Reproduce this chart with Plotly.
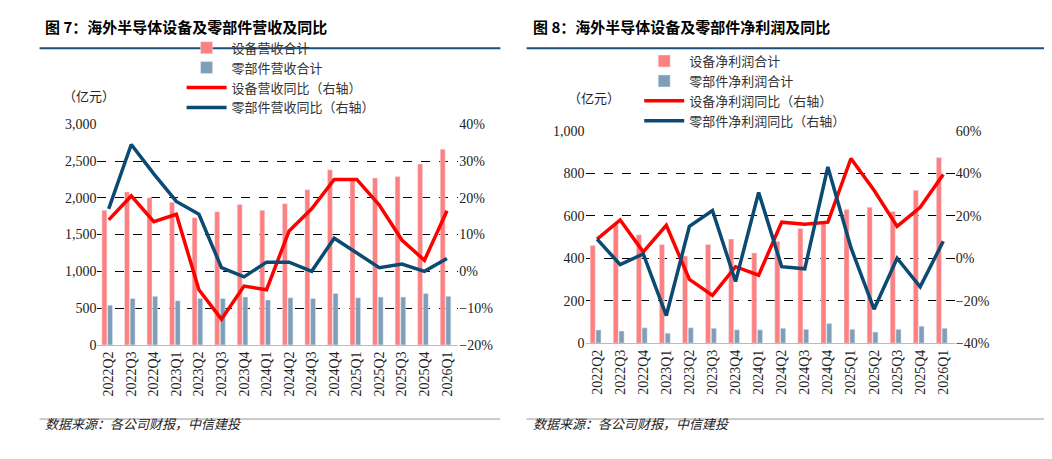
import plotly.graph_objects as go

quarters = ["2022Q2","2022Q3","2022Q4","2023Q1","2023Q2","2023Q3","2023Q4","2024Q1",
            "2024Q2","2024Q3","2024Q4","2025Q1","2025Q2","2025Q3","2025Q4","2026Q1"]
equip_rev = [1830,2080,2000,1940,1730,1810,1910,1830,1920,2110,2380,2250,2270,2290,2460,2660]
parts_rev = [540,630,660,600,630,630,650,610,640,630,700,640,650,650,700,660]
equip_rev_yoy = [14,20.5,13.5,15.5,-5,-13,-4,-5,11,17,25,25,18,8.5,3,16.5]
parts_rev_yoy = [17,34.5,26.5,19,15.5,1,-1.5,2.5,2.5,0,9,5,1,2,0,3.5]

equip_np = [460,560,510,465,410,465,490,425,480,540,570,630,640,620,720,875]
parts_np = [62,57,72,47,72,70,63,63,70,65,92,65,52,65,80,70]
equip_np_yoy = [9,18,3,15.5,-10,-17.5,-4,-8,17,16,17,47,32,15,24,39.5]
parts_np_yoy = [9,-3,2,-27,15,22.5,-11,31,-4,-5,43,5,-24,0,-13.5,8]

PINK = "#FF8080"; GREYBLUE = "#7F9FB9"; RED = "#FF0000"; NAVY = "#0B4A72"
SERIF = "Times New Roman, Liberation Serif, DejaVu Serif, serif"
fig = go.Figure()

def panel(xa, ya, ya2, leg, bars1, bars2, l1, l2, names):
    fig.add_bar(x=quarters, y=bars1, name=names[0], marker_color=PINK, xaxis=xa, yaxis=ya, legend=leg, width=0.22, offset=-0.3)
    fig.add_bar(x=quarters, y=bars2, name=names[1], marker_color=GREYBLUE, xaxis=xa, yaxis=ya, legend=leg, width=0.22, offset=-0.05)
    fig.add_scatter(x=quarters, y=[v/100 for v in l1], name=names[2], mode="lines", line=dict(color=RED, width=3.5), xaxis=xa, yaxis=ya2, legend=leg)
    fig.add_scatter(x=quarters, y=[v/100 for v in l2], name=names[3], mode="lines", line=dict(color=NAVY, width=3.5), xaxis=xa, yaxis=ya2, legend=leg)

panel("x", "y", "y2", "legend", equip_rev, parts_rev, equip_rev_yoy, parts_rev_yoy,
      ["设备营收合计", "零部件营收合计", "设备营收同比（右轴）", "零部件营收同比（右轴）"])
panel("x2", "y3", "y4", "legend2", equip_np, parts_np, equip_np_yoy, parts_np_yoy,
      ["设备净利润合计", "零部件净利润合计", "设备净利润同比（右轴）", "零部件净利润同比（右轴）"])

tickf = dict(family=SERIF, size=14, color="#222")
xcommon = dict(tickangle=-90, tickfont=tickf, showline=True, linecolor="#bbb", ticks="")
ycommon = dict(showgrid=True, gridcolor="black", griddash="dash", gridwidth=1, tickfont=tickf, zeroline=False)
legf = dict(font=dict(family="Noto Sans CJK SC", size=13, color="#333"), bgcolor="rgba(0,0,0,0)",
            traceorder="normal", tracegroupgap=0, itemwidth=40, yanchor="top")

fig.update_layout(
    width=1052, height=459, margin=dict(l=0, r=0, t=0, b=0),
    paper_bgcolor="white", plot_bgcolor="white", barmode="overlay", showlegend=True,
    xaxis=dict(domain=[0.085, 0.428], anchor="y", **xcommon),
    yaxis=dict(domain=[0.257, 0.754], range=[0, 3000], dtick=500, tickformat=",", anchor="x", **ycommon),
    yaxis2=dict(range=[-0.2, 0.4], dtick=0.1, tickformat=".0%", overlaying="y", side="right", anchor="x",
                showgrid=False, tickfont=tickf, zeroline=False),
    xaxis2=dict(domain=[0.549, 0.9], anchor="y3", **xcommon),
    yaxis3=dict(domain=[0.261, 0.739], range=[0, 1000], dtick=200, tickformat=",", anchor="x2", **ycommon),
    yaxis4=dict(range=[-0.4, 0.6], dtick=0.2, tickformat=".0%", overlaying="y3", side="right", anchor="x2",
                showgrid=False, tickfont=tickf, zeroline=False),
    legend=dict(x=0.165, y=0.96, **legf),
    legend2=dict(x=0.6, y=0.93, **legf),
)

ann = []
titles = [("图 7：海外半导体设备及零部件营收及同比", 0.033), ("图 8：海外半导体设备及零部件净利润及同比", 0.497)]
for t, x in titles:
    ann.append(dict(text="<b>"+t+"</b>", x=x, y=0.975, xref="paper", yref="paper", xanchor="left", yanchor="middle",
                    showarrow=False, font=dict(family="Noto Sans CJK SC", size=15, color="black")))
for x in [0.033, 0.497]:
    ann.append(dict(text="<i>数据来源：各公司财报，中信建投</i>", x=x, y=0.055, xref="paper", yref="paper", xanchor="left",
                    showarrow=False, font=dict(family="Noto Sans CJK SC", size=13, color="#222")))
for x, y in [(0.05, 0.845), (0.53, 0.84)]:
    ann.append(dict(text="（亿元）", x=x, y=y, xref="paper", yref="paper", xanchor="left",
                    showarrow=False, font=dict(family="Noto Sans CJK SC", size=13, color="#222")))
fig.update_layout(annotations=ann)

shapes = []
for x0, x1 in [(0.03, 0.468), (0.493, 0.995)]:
    shapes.append(dict(type="line", xref="paper", yref="paper", x0=x0, x1=x1, y0=0.925, y1=0.925, line=dict(color="#1F4E79", width=2)))
    shapes.append(dict(type="line", xref="paper", yref="paper", x0=x0, x1=x1, y0=0.09, y1=0.09, line=dict(color="#999", width=1)))
fig.update_layout(shapes=shapes)

fig.write_html("out.html")
